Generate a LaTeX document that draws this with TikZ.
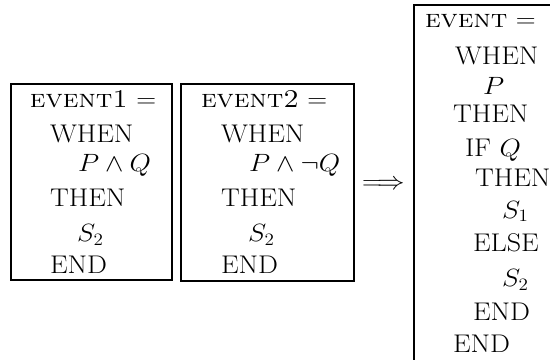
\documentclass[tikz,border=0pt]{standalone}
\usetikzlibrary{fit}
\begin{document}
\begin{tikzpicture}[x=0.8296pt,y=-0.8296pt,
  every node/.style={inner sep=0pt,outer sep=0pt},
  txt/.style={anchor=base west,font=\fontsize{21.2}{25}\selectfont,xscale=1.1,transform shape},
  box/.style={draw,line width=1.4pt,inner sep=0pt},
]
\useasboundingbox (0,0) rectangle (550,360);
\clip (0,0) rectangle (550,360);
% box 1
\coordinate (p1) at (11,84);
\coordinate (q1) at (172,280);
\node[box,fit=(p1)(q1)] (b1) {};
\node[txt] (a1) at (30,108) {\textsc{event1} $=$};
\node[txt] (a2) at (50,143) {WHEN};
\node[txt] (a3) at (78,172) {$P\wedge Q$};
\node[txt] (a4) at (50,207) {THEN};
\node[txt] (a5) at (77,242) {$S_2$};
\node[txt] (a6) at (50,273) {END};
% box 2
\coordinate (p2) at (181,84);
\coordinate (q2) at (354,281);
\node[box,fit=(p2)(q2)] (b2) {};
\node[txt] (c1) at (201,108) {\textsc{event2} $=$};
\node[txt] (c2) at (221,143) {WHEN};
\node[txt] (c3) at (249,172) {$P\wedge\neg Q$};
\node[txt] (c4) at (221,207) {THEN};
\node[txt] (c5) at (248,242) {$S_2$};
\node[txt] (c6) at (221,273) {END};
% arrow
\node[txt] (arr) at (362,190) {$\Longrightarrow$};
% box 3
\coordinate (p3) at (414,5);
\coordinate (q3) at (564,375);
\node[box,fit=(p3)(q3)] (b3) {};
\node[txt] (d1) at (425,28) {\textsc{event} $=$};
\node[txt] (d2) at (455,65) {WHEN};
\node[txt] (d3) at (483,95) {$P$};
\node[txt] (d4) at (453,123) {THEN};
\node[txt] (d5) at (465,157) {IF $Q$};
\node[txt] (d6) at (475,187) {THEN};
\node[txt] (d7) at (502,218) {$S_1$};
\node[txt] (d8) at (473,252) {ELSE};
\node[txt] (d9) at (502,287) {$S_2$};
\node[txt] (d10) at (473,320) {END};
\node[txt] (d11) at (453,352) {END};
\end{tikzpicture}
\end{document}
